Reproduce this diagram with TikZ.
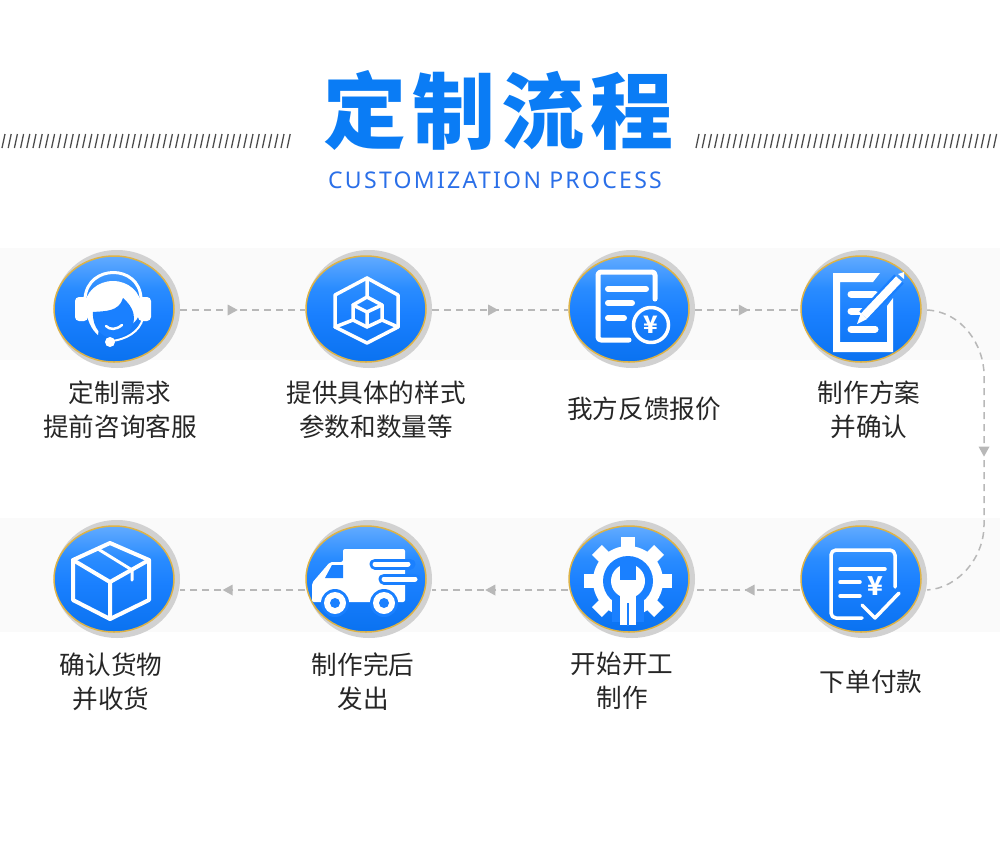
\documentclass[tikz,border=0pt]{standalone}
\usepackage{fontspec}
\usetikzlibrary{shapes.geometric}
\usetikzlibrary{arrows.meta,decorations.markings}
\newfontfamily\cjk{Noto Sans CJK SC}
\newfontfamily\titlefont[LetterSpace=7]{Noto Sans CJK SC}
\newfontfamily\subfont[LetterSpace=10]{Noto Sans}
\definecolor{stepblue}{HTML}{1A80FF}
\definecolor{balltop}{HTML}{62ABFF}
\definecolor{ballmid}{HTML}{2A8CFF}
\definecolor{ballbot}{HTML}{0A72F0}
\definecolor{ballring}{HTML}{DDB347}
\definecolor{titleblue}{HTML}{0A7CF5}
\definecolor{subblue}{HTML}{2A6FE8}
\definecolor{flowgray}{HTML}{B8B8B8}
\pgfdeclareverticalshading{ballblue}{100bp}{color(0bp)=(ballbot); color(25bp)=(ballbot);
  color(48bp)=(stepblue); color(60bp)=(ballmid); color(75bp)=(balltop); color(100bp)=(balltop)}
\tikzset{
  stepball/.style={ellipse,fill=black!18,minimum width=126pt,minimum height=118pt,inner sep=0pt},
  stepface/.style={ellipse,draw=ballring,line width=1.5pt,minimum width=120pt,minimum height=106pt,
    inner sep=0pt,shading=ballblue},
  steplabel/.style={font=\cjk\fontsize{25.6}{34}\selectfont,text=black!85,align=center,inner sep=0pt},
  flowline/.style={draw=flowgray,line width=1.5pt,dash pattern=on 7pt off 5pt,postaction={decorate},
    decoration={markings,mark=at position #1 with {\arrow[flowgray,line width=0pt]{Triangle[length=10pt,width=11pt]}}}},
  iconline/.style={draw=white,line width=3.5pt,line join=round,line cap=round},
  iconfat/.style={draw=white,line width=6pt,line cap=round},
  hatchline/.style={draw=black!70,line width=1.3pt},
}
\begin{document}
\begin{tikzpicture}[x=1pt,y=-1pt]
    \useasboundingbox (0,0) rectangle (1000,862);

    % Bands
    \fill[black!2] (0,248) rectangle (1000,360);
    \fill[black!2] (0,518) rectangle (1000,632);

    % Title
    \node[font=\titlefont\bfseries\fontsize{83}{83}\selectfont,text=titleblue,inner sep=0pt] (title) at (498.5,110) {定制流程};
    \node[font=\subfont\fontsize{23}{23}\selectfont,text=subblue,inner sep=0pt] (subtitle) at (495,180) {CUSTOMIZATION PROCESS};

    % Hatching
    \foreach \x in {2,8.2,...,290}
        \draw[hatchline] (\x,148) -- (\x+3,134);
    \foreach \x in {696,702.2,...,998}
        \draw[hatchline] (\x,148) -- (\x+3,134);

    % Balls, top row
    \node[stepball] (need) at (117,309) {};
    \node[stepface] (needface) at (114,309) {};
    \node[stepball] (spec) at (369,309) {};
    \node[stepface] (specface) at (366,309) {};
    \node[stepball] (quote) at (632,309) {};
    \node[stepface] (quoteface) at (629,309) {};
    \node[stepball] (plan) at (864,309) {};
    \node[stepface] (planface) at (861,309) {};

    % Balls, bottom row
    \node[stepball] (check) at (117,579) {};
    \node[stepface] (checkface) at (114,579) {};
    \node[stepball] (ship) at (369,579) {};
    \node[stepface] (shipface) at (366,579) {};
    \node[stepball] (make) at (632,579) {};
    \node[stepface] (makeface) at (629,579) {};
    \node[stepball] (order) at (864,579) {};
    \node[stepface] (orderface) at (861,579) {};

    % Connectors
    \coordinate (toprow) at (0,310);
    \coordinate (botrow) at (0,590);
    \draw[flowline=0.46] (need.east |- toprow) -- (specface.west |- toprow);
    \draw[flowline=0.485] (spec.east |- toprow) -- (quoteface.west |- toprow);
    \draw[flowline=0.51] (quote.east |- toprow) -- (planface.west |- toprow);
    \coordinate (turntop) at (984,375);
    \coordinate (turnbot) at (984,525);
    \draw[flowline=0.52] (plan.east |- toprow) .. controls (962,312) and (984,345) .. (turntop) -- (turnbot)
        .. controls (984,558) and (958,588) .. (order.east |- botrow);
    \draw[flowline=0.53] (orderface.west |- botrow) -- (make.east |- botrow);
    \draw[flowline=0.61] (makeface.west |- botrow) -- (ship.east |- botrow);
    \draw[flowline=0.66] (shipface.west |- botrow) -- (check.east |- botrow);

    % Headset
    \draw[white,line width=3pt] (85,298) .. controls (88,264) and (139,264) .. (141,298);
    \fill[white,rounded corners=4pt] (75,297) rectangle (88,321);
    \fill[white,rounded corners=4pt] (138,297) rectangle (151,321);
    \fill[white] (113,306) ellipse (28 and 25);
    \fill[white] (86,305) .. controls (86,320) and (92,330) .. (98,335) -- (100,320) -- cycle;
    \fill[stepblue] (93,312) .. controls (105,311) and (119,312) .. (123,298)
        .. controls (131,305) and (134,312) .. (134,318)
        .. controls (134,330) and (124,338) .. (113,338)
        .. controls (102,338) and (92,328) .. (93,312) -- cycle;
    \draw[white,line width=2.5pt,line cap=round] (106,326) .. controls (110,330) and (116,330) .. (122,325);
    \draw[white,line width=2pt] (143,318) .. controls (140,332) and (125,340) .. (111,341);
    \fill[white] (110,342) circle[radius=5pt];

    % Cube
    \draw[iconline] (367,278) -- (398,295) -- (398,327) -- (367,343) -- (335,327) -- (335,295) -- cycle;
    \draw[iconline] (367,297) -- (382,305) -- (382,320) -- (367,327) -- (353,320) -- (353,305) -- cycle;
    \draw[iconline] (353,305) -- (367,312) -- (382,305) (367,312) -- (367,327);
    \draw[iconline] (367,278) -- (367,297) (335,327) -- (353,320) (398,327) -- (382,320);

    % Quote sheet
    \draw[iconline,line width=5pt,rounded corners=3pt] (655,299) -- (655,272) -- (598,272) -- (598,340) -- (629,340);
    \draw[iconfat] (608,289) -- (646,289);
    \draw[iconfat] (608,303) -- (632,303);
    \draw[iconfat] (608,318) -- (624,318);
    \draw[iconline] (651,325) circle[radius=17.5pt];
    \node[font=\cjk\bfseries\fontsize{24}{24}\selectfont,text=white,inner sep=0pt] (quoteyen) at (651,325) {¥};

    % Form and pen
    \fill[white] (833,273) -- (880,273) -- (873,282) -- (840,282) -- (840,342) -- (887,342)
        -- (887,306) -- (893,298) -- (893,352) -- (833,352) -- cycle;
    \draw[white,line width=7pt,line cap=round] (851,294) -- (875,294);
    \draw[white,line width=7pt,line cap=round] (851,311) -- (866,311);
    \draw[white,line width=7pt,line cap=round] (851,329) -- (875,329);
    \draw[stepblue,line width=13pt] (899,279) -- (864,316);
    \draw[white,line width=8pt] (899,279) -- (864,316);
    \fill[white] (867,319) -- (861,313) -- (857,324) -- cycle;
    \fill[white] (898,274) -- (904,272) -- (904,279) -- cycle;

    % Order sheet
    \draw[iconline,rounded corners=5pt] (895,587) -- (895,550) -- (831,550) -- (831,618) -- (862,618);
    \draw[iconline] (840,569) -- (885,569);
    \draw[iconline] (840,582) -- (860,582);
    \draw[iconline] (840,596) -- (860,596);
    \node[font=\cjk\bfseries\fontsize{26}{26}\selectfont,text=white,inner sep=0pt] (orderyen) at (875,586) {¥};
    \draw[iconline] (862,605) -- (875,618) -- (899,593);

    % Gear and wrench
    \foreach \a in {0,45,90,135,225,270,315}
        \fill[white,rotate around={\a:(628,581)}] (621,537) rectangle (635,552);
    \fill[white] (628,581) circle[radius=35pt];
    \fill[stepblue] (628,581) circle[radius=25pt];
    \fill[stepblue] (612,600) rectangle (644,622);
    \fill[white] (628,581) circle[radius=17pt];
    \fill[white] (620,590) rectangle (636,625);
    \fill[stepblue] (620,560) rectangle (636,580);
    \fill[stepblue] (627,603) rectangle (629,626);

    % Truck
    \fill[white,rounded corners=2pt] (343,549) -- (405,549) -- (405,602) -- (343,602) -- (312,602)
        -- (312,583) -- (330,562) -- (343,562) -- cycle;
    \fill[stepblue] (332,565) -- (343,565) -- (343,578) -- (325,578) -- cycle;
    \draw[stepblue,line width=11pt,line cap=round] (375,564) -- (410,564);
    \draw[stepblue,line width=11pt,line cap=round] (384,579) -- (415,579);
    \draw[white,line width=5pt,line cap=round] (375,564) -- (408,564);
    \draw[white,line width=5pt,line cap=round] (384,579) -- (415,579);
    \fill[stepblue] (335,603) circle[radius=14pt];
    \fill[stepblue] (384,603) circle[radius=14pt];
    \fill[white] (335,603) circle[radius=11pt];
    \fill[white] (384,603) circle[radius=11pt];
    \fill[stepblue] (335,603) circle[radius=5pt];
    \fill[stepblue] (384,603) circle[radius=5pt];

    % Parcel
    \draw[iconline,line width=4pt] (110,543) -- (149,560) -- (149,600) -- (110,619) -- (73,600) -- (73,560) -- cycle;
    \draw[iconline,line width=4pt] (73,560) -- (110,582) -- (149,560) (110,582) -- (110,619);
    \draw[iconline,line width=3pt] (98,549) -- (132,570) -- (132,580);

    % Labels
    \node[steplabel] (needtext) at (120,410) {定制需求\\提前咨询客服};
    \node[steplabel] (spectext) at (376,410) {提供具体的样式\\参数和数量等};
    \node[steplabel] (quotetext) at (644,409) {我方反馈报价};
    \node[steplabel] (plantext) at (869,410) {制作方案\\并确认};
    \node[steplabel] (checktext) at (111,682) {确认货物\\并收货};
    \node[steplabel] (shiptext) at (363,682) {制作完后\\发出};
    \node[steplabel] (maketext) at (622,681) {开始开工\\制作};
    \node[steplabel] (ordertext) at (871,682) {下单付款};

\end{tikzpicture}
\end{document}
